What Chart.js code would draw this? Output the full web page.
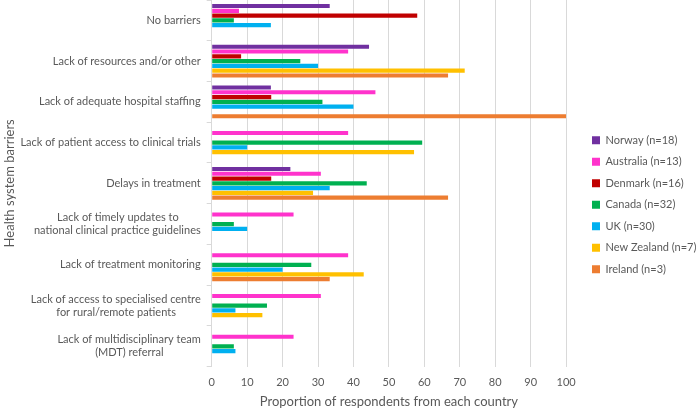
<!DOCTYPE html>
<html>
<head>
<meta charset="utf-8">
<script src="https://cdn.jsdelivr.net/npm/chart.js@4"></script>
<style>
  body { margin: 0; background: #fff; }
  #wrap { width: 698px; height: 411px; }
</style>
</head>
<body>
<div id="wrap"><canvas id="bars"></canvas></div>
<script>
const barriers = [
    ['No barriers'],
    ['Lack of resources and/or other'],
    ['Lack of adequate hospital staffing'],
    ['Lack of patient access to clinical trials'],
    ['Delays in treatment'],
    ['Lack of timely updates to', 'national clinical practice guidelines'],
    ['Lack of treatment monitoring'],
    ['Lack of access to specialised centre', 'for rural/remote patients'],
    ['Lack of multidisciplinary team', '(MDT) referral']
];

const norway     = [33.3, 44.4, 16.7, 0, 22.2, 0, 0, 0, 0];
const australia  = [7.7, 38.5, 46.2, 38.5, 30.8, 23.1, 38.5, 30.8, 23.1];
const denmark    = [58.0, 8.3, 16.8, 0, 16.8, 0, 0, 0, 0];
const canada     = [6.25, 25.0, 31.25, 59.4, 43.75, 6.25, 28.1, 15.6, 6.25];
const uk         = [16.7, 30.0, 40.0, 10.0, 33.3, 10.0, 20.0, 6.7, 6.7];
const newZealand = [0, 71.4, 0, 57.1, 28.6, 0, 42.9, 14.3, 0];
const ireland    = [0, 66.7, 100, 0, 66.7, 0, 33.3, 0, 0];

const countries = ['Norway (n=18)', 'Australia (n=13)', 'Denmark (n=16)', 'Canada (n=32)',
                   'UK (n=30)', 'New Zealand (n=7)', 'Ireland (n=3)'];
const colours = ['#7030A0', '#FF33CC', '#C00000', '#00B050', '#00B0F0', '#FFC000', '#ED7D31'];
const series = [norway, australia, denmark, canada, uk, newZealand, ireland];

const fontFamily = 'Lato, "Open Sans", sans-serif';
const grey = '#595959';

// pad shorter lines so wrapped labels look centred inside a right aligned block
const measure = document.createElement('canvas').getContext('2d');
measure.font = '11px ' + fontFamily;
function centreLines(lines) {
    if (lines.length < 2) return lines;
    const widths = lines.map(l => measure.measureText(l).width);
    const max = Math.max(...widths);
    const sp = measure.measureText('\u2009').width;
    return lines.map((l, i) => l + '\u2009'.repeat(Math.round((max - widths[i]) / 2 / sp)));
}

// legend sits further from the plot than chart.js puts it
const shiftLegend = {
    id: 'shiftLegend',
    afterLayout(chart) {
        const l = chart.legend;
        const dx = 592 - (l.left + l.options.labels.padding);
        l.left += dx;
        l.right += dx;
    }
};

const ctx = document.getElementById('bars').getContext('2d');
const myChart = new Chart(ctx, {
    type: 'bar',
    data: {
        labels: barriers,
        datasets: countries.map((name, i) => ({
            label: name,
            data: series[i],
            backgroundColor: colours[i],
            borderWidth: 0,
            categoryPercentage: 0.82,
            barPercentage: 0.86
        }))
    },
    options: {
        indexAxis: 'y',
        responsive: true,
        maintainAspectRatio: false,
        animation: false,
        layout: { padding: { top: 0, right: 7, bottom: 1.5, left: 2 } },
        scales: {
            x: {
                min: 0,
                max: 100,
                afterFit(scale) {
                    scale.height = 42.8;
                },
                ticks: { stepSize: 10, color: grey, font: { family: fontFamily, size: 11 }, padding: 9.4 },
                grid: { color: '#d9d9d9', drawTicks: false },
                border: { display: false },
                title: {
                    display: true,
                    text: 'Proportion of respondents from each country',
                    color: grey,
                    font: { family: fontFamily, size: 13 },
                    padding: { top: 4.6, bottom: 0 }
                }
            },
            y: {
                afterFit(scale) {
                    scale.width = 209.7;
                    scale.paddingTop = 0;
                    scale.paddingBottom = 0;
                },
                ticks: {
                    color: grey,
                    font: { family: fontFamily, size: 11 },
                    padding: 6,
                    callback: function (value) {
                        return centreLines(barriers[value]);
                    }
                },
                grid: { color: '#d9d9d9', drawOnChartArea: false, tickLength: 5 },
                border: { display: true, color: '#d9d9d9' },
                title: {
                    display: true,
                    text: 'Health system barriers',
                    color: grey,
                    font: { family: fontFamily, size: 13 },
                    padding: { top: 0, bottom: 4 }
                }
            }
        },
        plugins: {
            legend: {
                position: 'right',
                labels: {
                    boxWidth: 8,
                    boxHeight: 8,
                    padding: 10.5,
                    color: grey,
                    font: { family: fontFamily, size: 11 }
                }
            },
            tooltip: { enabled: false }
        }
    },
    plugins: [shiftLegend]
});
</script>
</body>
</html>
